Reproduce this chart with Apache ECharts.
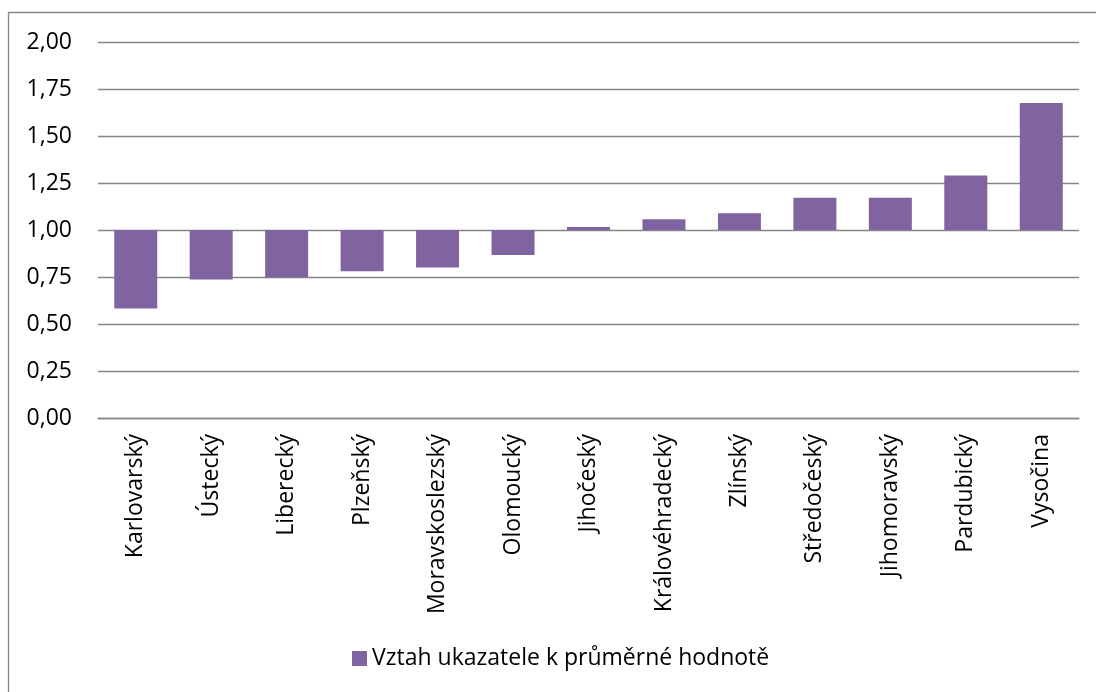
<!DOCTYPE html>
<html>
<head>
<meta charset="utf-8">
<script src="https://cdn.jsdelivr.net/npm/echarts@6/dist/echarts.min.js"></script>
<style>
  html, body { margin: 0; padding: 0; background: #fff; }
  #chart { width: 1096px; height: 692px; }
</style>
</head>
<body>
<div id="chart"></div>
<script>
  // kraje, seřazené podle hodnoty
  const categories = ['Karlovarský', 'Ústecký', 'Liberecký', 'Plzeňský', 'Moravskoslezský', 'Olomoucký',
    'Jihočeský', 'Královéhradecký', 'Zlínský', 'Středočeský', 'Jihomoravský', 'Pardubický', 'Vysočina'];
  const values = [0.583, 0.737, 0.748, 0.780, 0.801, 0.867, 1.016, 1.057, 1.089, 1.171, 1.171, 1.290, 1.675];
  const seriesName = 'Vztah ukazatele k průměrné hodnotě';
  const baseline = 1;

  // bars hang from 1,00 -> invisible base + visible part
  const baseData = values.map(v => Math.min(v, baseline));
  const diffData = values.map(v => Math.abs(v - baseline));

  const font = 'Open Sans';
  const grey = '#868686';
  const fs = 23;

  const chart = echarts.init(document.getElementById('chart'));
  const option = {
    animation: false,
    textStyle: { fontFamily: font },
    grid: { left: 98, right: 17, top: 42, bottom: 274 },
    legend: {
      data: [seriesName],
      bottom: 17,
      left: 347,
      icon: 'rect',
      itemWidth: 15,
      itemHeight: 15,
      itemGap: 6,
      textStyle: { fontFamily: font, fontSize: fs, color: '#000' }
    },
    xAxis: {
      type: 'category',
      data: categories,
      axisLine: { lineStyle: { color: grey, width: 1.3 } },
      axisTick: { show: false },
      axisLabel: { rotate: 90, margin: 16, fontSize: fs, color: '#000', fontFamily: font, interval: 0 }
    },
    yAxis: {
      type: 'value',
      min: 0,
      max: 2,
      interval: 0.25,
      axisLine: { show: false },
      axisTick: { show: false },
      splitLine: { lineStyle: { color: grey, width: 1.3 } },
      axisLabel: {
        margin: 26,
        fontSize: fs,
        color: '#000',
        fontFamily: font,
        formatter: v => v.toFixed(2).replace('.', ',')
      }
    },
    series: [
      {
        name: 'base',
        type: 'bar',
        stack: 'a',
        barWidth: '57%',
        itemStyle: { color: 'transparent' },
        emphasis: { disabled: true },
        data: baseData
      },
      {
        name: seriesName,
        type: 'bar',
        stack: 'a',
        barWidth: '57%',
        itemStyle: { color: '#8064A2' },
        data: diffData
      }
    ],
    graphic: [
      {
        type: 'polyline',
        shape: { points: [[8.5, 700], [8.5, 12.5], [1100, 12.5]] },
        style: { stroke: grey, lineWidth: 1.3, fill: null }
      }
    ]
  };
  chart.setOption(option);
</script>
</body>
</html>
